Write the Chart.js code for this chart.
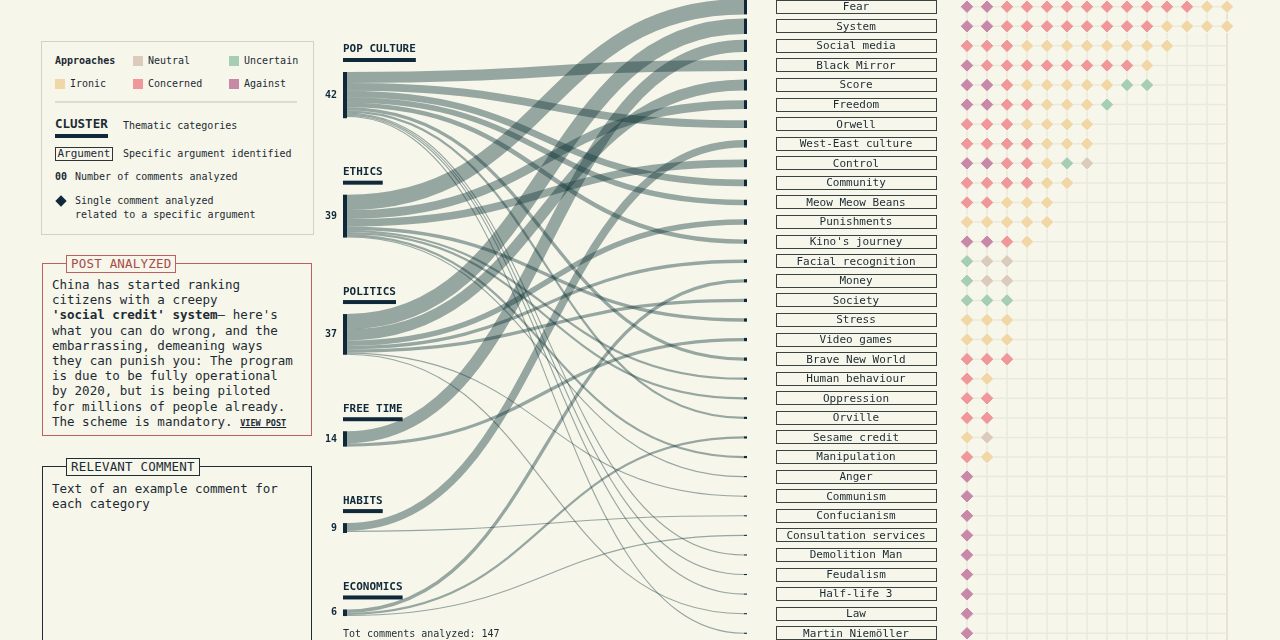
<!DOCTYPE html>
<html lang="en">
<head>
  <meta charset="UTF-8">
  <meta name="viewport" content="width=device-width, initial-scale=1.0">
  <title>Social credit - comments analyzed</title>
  <script src="https://cdn.jsdelivr.net/npm/chart.js"></script>
  <style>
    html, body { margin: 0; padding: 0; background: #f7f6eb; }
    body {
      width: 1280px; height: 640px; overflow: hidden; position: relative;
      font-family: "DejaVu Sans Mono", monospace; color: #1c2b33;
    }
    .abs { position: absolute; white-space: nowrap; }
    .small { font-size: 10px; line-height: 12px; }
    .sw { position: absolute; width: 10px; height: 10px; }
    #flowWrap { position: absolute; left: 320px; top: 0; width: 440px; height: 640px; }
    #dotWrap { position: absolute; left: 760px; top: 0; width: 520px; height: 640px; }
    .boxTitle {
      position: absolute; background: #f7f6eb; font-size: 12.5px; line-height: 14px;
      padding: 1px 4px; letter-spacing: 0.2px;
    }
    .bodyText { font-size: 12.5px; line-height: 15.2px; }
  </style>
</head>
<body>
  <!-- legend -->
  <div class="abs" style="left:41px;top:41px;width:271px;height:192px;border:1px solid #d3d2c6;"></div>
  <div class="abs small" style="left:55px;top:55px;font-weight:bold;">Approaches</div>
  <div class="sw" style="left:133px;top:56px;background:#dacbbd;"></div>
  <div class="abs small" style="left:148px;top:55px;">Neutral</div>
  <div class="sw" style="left:229px;top:56px;background:#a6ceb4;"></div>
  <div class="abs small" style="left:244px;top:55px;">Uncertain</div>
  <div class="sw" style="left:55px;top:79px;background:#f1d7a6;"></div>
  <div class="abs small" style="left:70px;top:78px;">Ironic</div>
  <div class="sw" style="left:133px;top:79px;background:#ef9799;"></div>
  <div class="abs small" style="left:148px;top:78px;">Concerned</div>
  <div class="sw" style="left:229px;top:79px;background:#c888a8;"></div>
  <div class="abs small" style="left:244px;top:78px;">Against</div>
  <div class="abs" style="left:55px;top:101px;width:242px;height:1.5px;background:#dddcd0;"></div>
  <div class="abs" style="left:55px;top:117px;font-weight:bold;font-size:12.5px;line-height:14px;">CLUSTER</div>
  <div class="abs" style="left:55px;top:134px;width:53px;height:4px;background:#10293a;"></div>
  <div class="abs small" style="left:123px;top:120px;">Thematic categories</div>
  <div class="abs" style="left:55px;top:147px;width:56px;height:12px;border:1px solid #333;font-size:11px;line-height:12px;text-align:center;">Argument</div>
  <div class="abs small" style="left:123px;top:148px;">Specific argument identified</div>
  <div class="abs small" style="left:55px;top:171px;font-weight:bold;">00</div>
  <div class="abs small" style="left:75px;top:171px;">Number of comments analyzed</div>
  <div class="abs" style="left:57px;top:197px;width:8px;height:8px;background:#10293a;transform:rotate(45deg);"></div>
  <div class="abs small" style="left:75px;top:195px;">Single comment analyzed</div>
  <div class="abs small" style="left:75px;top:209px;">related to a specific argument</div>

  <!-- post analyzed -->
  <div class="abs" style="left:42px;top:263px;width:268px;height:171px;border:1.5px solid #c0605e;"></div>
  <div class="boxTitle" style="left:66px;top:255px;border:1.5px solid #c0605e;color:#a84c4a;">POST ANALYZED</div>
  <div class="abs bodyText" style="left:52px;top:277px;">
    China has started ranking<br>
    citizens with a creepy<br>
    <b>'social credit' system</b>– here's<br>
    what you can do wrong, and the<br>
    embarrassing, demeaning ways<br>
    they can punish you: The program<br>
    is due to be fully operational<br>
    by 2020, but is being piloted<br>
    for millions of people already.<br>
    The scheme is mandatory. <span style="font-size:8.5px;font-weight:bold;text-decoration:underline;">VIEW POST</span>
  </div>

  <!-- relevant comment -->
  <div class="abs" style="left:42px;top:466px;width:268px;height:200px;border:1.5px solid #1e2d36;"></div>
  <div class="boxTitle" style="left:66px;top:458px;border:1.5px solid #1e2d36;">RELEVANT COMMENT</div>
  <div class="abs bodyText" style="left:52px;top:481px;">
    Text of an example comment for<br>
    each category
  </div>

  <div id="flowWrap"><canvas id="flowChart"></canvas></div>
  <div id="dotWrap"><canvas id="dotChart"></canvas></div>
  <div class="abs small" style="left:343px;top:628px;">Tot comments analyzed: 147</div>

  <script>
    // thematic clusters (left nodes) and their comment totals
    const clusters = ['POP CULTURE', 'ETHICS', 'POLITICS', 'FREE TIME', 'HABITS', 'ECONOMICS'];
    const clusterCounts = [42, 39, 37, 14, 9, 6];

    // arguments (right nodes), top to bottom
    const argumentNames = ['Fear', 'System', 'Social media', 'Black Mirror', 'Score', 'Freedom', 'Orwell',
      'West-East culture', 'Control', 'Community', 'Meow Meow Beans', 'Punishments', "Kino's journey",
      'Facial recognition', 'Money', 'Society', 'Stress', 'Video games', 'Brave New World', 'Human behaviour',
      'Oppression', 'Orville', 'Sesame credit', 'Manipulation', 'Anger', 'Communism', 'Confucianism',
      'Consultation services', 'Demolition Man', 'Feudalism', 'Half-life 3', 'Law', 'Martin Niemöller'];

    // index into clusters for the flow that feeds each argument
    const argumentCluster = [1, 2, 3, 0, 2, 1, 0, 4, 1, 0, 0, 2, 0, 2, 5, 2, 1, 3, 0, 1, 1, 0, 5, 1, 1, 2, 4, 5, 0, 0, 0, 2, 0];

    // one letter per comment: A against, C concerned, I ironic, U uncertain, N neutral
    const argumentApproaches = ['AACCCCCCCCCCII', 'AACCCCCCCCIIII', 'CCCIIIIIIII', 'ACCCCCCCCI', 'AACIIIIIUU',
      'AACCIIIU', 'CCCIIII', 'CCCCIII', 'AACCIUN', 'CCCCII', 'CCIII', 'IIIII', 'AACI', 'UNN', 'UNN', 'UUU',
      'III', 'III', 'CCC', 'CI', 'CC', 'CC', 'IN', 'CI', 'A', 'A', 'A', 'A', 'A', 'A', 'A', 'A', 'A'];

    const approachCodes = ['N', 'U', 'I', 'C', 'A'];
    const approachNames = ['Neutral', 'Uncertain', 'Ironic', 'Concerned', 'Against'];
    const approachColors = ['#dacbbd', '#a6ceb4', '#f1d7a6', '#ef9799', '#c888a8'];

    // layout (in row units of the shared y scale)
    const ROWS_PER_COMMENT = 0.0562;
    const CLUSTER_TOP = 3.335;
    const CLUSTER_GAP = 3.905;
    const yAxis = { type: 'linear', reverse: true, min: -0.342, max: 32.344, display: false };
    const DARK = '#10293a';
    const FONT = '"DejaVu Sans Mono", monospace';

    const flowPlugin = {
      id: 'flows',
      afterDraw(chart) {
        const ctx = chart.ctx;
        const xs = chart.scales.x, ys = chart.scales.y;
        const x0 = xs.getPixelForValue(0), x1 = xs.getPixelForValue(1), xm = (x0 + x1) / 2;
        const py = v => ys.getPixelForValue(v);
        const thick = n => Math.abs(py(n * ROWS_PER_COMMENT) - py(0));

        let top = CLUSTER_TOP;
        const nodeTop = clusters.map((c, i) => {
          const t = top;
          top += clusterCounts[i] * ROWS_PER_COMMENT + CLUSTER_GAP;
          return t;
        });
        const used = nodeTop.slice();

        ctx.save();
        ctx.strokeStyle = 'rgba(17, 54, 58, 0.42)';
        argumentNames.forEach((name, i) => {
          const n = argumentApproaches[i].length;
          const c = argumentCluster[i];
          const sy = py(used[c] + n * ROWS_PER_COMMENT / 2);
          used[c] += n * ROWS_PER_COMMENT;
          const ty = py(i);
          ctx.lineWidth = thick(n);
          ctx.beginPath();
          ctx.moveTo(x0, sy);
          ctx.bezierCurveTo(xm, sy, xm, ty, x1, ty);
          ctx.stroke();
        });

        ctx.fillStyle = DARK;
        clusters.forEach((c, i) => {
          const t = py(nodeTop[i]), h = thick(clusterCounts[i]);
          ctx.fillRect(x0 - 4, t, 4, h);
          ctx.font = 'bold 11px ' + FONT;
          ctx.textAlign = 'left';
          ctx.textBaseline = 'alphabetic';
          ctx.fillText(c, x0 - 4, t - 19.5);
          ctx.fillRect(x0 - 4, t - 14, ctx.measureText(c).width, 4);
          ctx.font = 'bold 10px ' + FONT;
          ctx.textAlign = 'right';
          ctx.textBaseline = 'middle';
          ctx.fillText(String(clusterCounts[i]), x0 - 10, t + h / 2);
        });
        argumentNames.forEach((name, i) => {
          const h = thick(argumentApproaches[i].length);
          ctx.fillRect(x1, py(i) - h / 2, 3, h);
        });
        ctx.restore();
      }
    };

    new Chart(document.getElementById('flowChart'), {
      type: 'scatter',
      data: { datasets: [] },
      options: {
        responsive: true, maintainAspectRatio: false, animation: false, events: [],
        layout: { padding: 0, autoPadding: false },
        scales: { x: { type: 'linear', min: -0.068, max: 1.0403, display: false }, y: yAxis },
        plugins: { legend: { display: false }, tooltip: { enabled: false } }
      },
      plugins: [flowPlugin]
    });

    const lastCol = Math.max(...argumentApproaches.map(a => a.length)) - 1;

    const gridPlugin = {
      id: 'dotGrid',
      beforeDatasetsDraw(chart) {
        const { ctx, chartArea } = chart;
        const xs = chart.scales.x, ys = chart.scales.y;
        ctx.save();
        ctx.lineWidth = 1.5;
        for (let c = 0; c <= lastCol; c++) {
          const x = xs.getPixelForValue(c);
          ctx.strokeStyle = c === lastCol ? '#dfddd1' : '#eae9de';
          ctx.beginPath();
          ctx.moveTo(x, chartArea.top);
          ctx.lineTo(x, chartArea.bottom);
          ctx.stroke();
        }
        ctx.strokeStyle = '#eae9de';
        argumentNames.forEach((n, i) => {
          const y = ys.getPixelForValue(i);
          ctx.beginPath();
          ctx.moveTo(xs.getPixelForValue(0), y);
          ctx.lineTo(xs.getPixelForValue(lastCol), y);
          ctx.stroke();
        });
        ctx.restore();
      },
      afterDraw(chart) {
        const ctx = chart.ctx;
        const xs = chart.scales.x, ys = chart.scales.y;
        const right = xs.getPixelForValue(0) - 31, width = 160;
        ctx.save();
        ctx.font = '11px ' + FONT;
        ctx.textAlign = 'center';
        ctx.textBaseline = 'middle';
        ctx.lineWidth = 1;
        ctx.strokeStyle = '#3b4244';
        ctx.fillStyle = '#1c2b33';
        argumentNames.forEach((name, i) => {
          const y = ys.getPixelForValue(i);
          ctx.strokeRect(Math.round(right - width) + 0.5, Math.round(y - 7) + 0.5, width, 13);
          ctx.fillText(name, right - width / 2, y + 0.5);
        });
        ctx.restore();
      }
    };

    const dotSets = approachCodes.map((code, k) => ({
      label: approachNames[k],
      data: argumentApproaches.flatMap((row, i) =>
        row.split('').map((c, col) => c === code ? { x: col, y: i } : null).filter(Boolean)),
      pointStyle: 'rectRot',
      pointRadius: 6.8,
      pointHoverRadius: 6.8,
      backgroundColor: approachColors[k],
      borderColor: '#f7f6eb',
      borderWidth: 1
    }));

    new Chart(document.getElementById('dotChart'), {
      type: 'scatter',
      data: { datasets: dotSets },
      options: {
        responsive: true, maintainAspectRatio: false, animation: false, events: [],
        layout: { padding: 0, autoPadding: false },
        scales: { x: { type: 'linear', min: -10.35, max: 15.65, display: false }, y: yAxis },
        plugins: { legend: { display: false }, tooltip: { enabled: false } }
      },
      plugins: [gridPlugin]
    });
  </script>
</body>
</html>
